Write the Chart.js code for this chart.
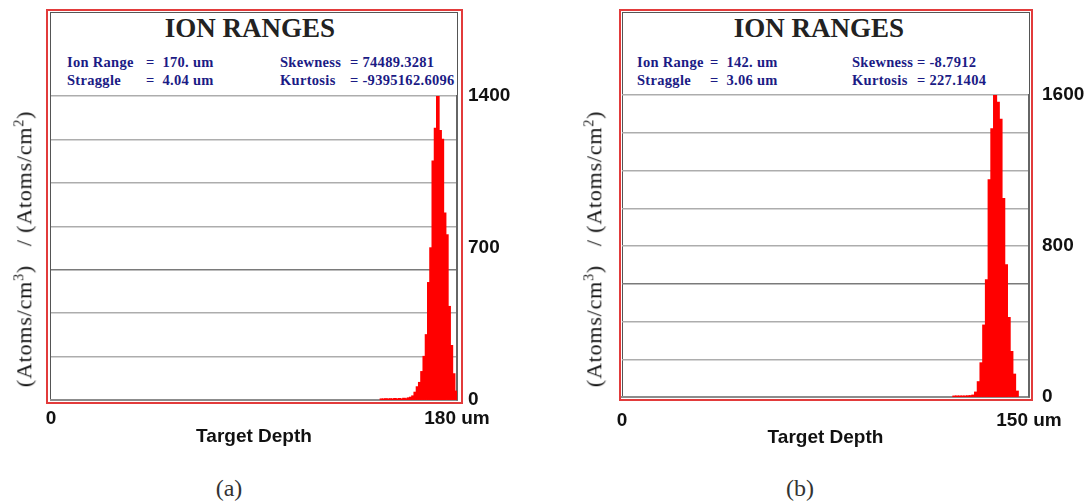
<!DOCTYPE html>
<html><head><meta charset="utf-8">
<script src="https://cdn.jsdelivr.net/npm/chart.js@4.4.1/dist/chart.umd.min.js"></script>
<style>
body{margin:0;background:#fff;}
#wrap{position:relative;width:1092px;height:504px;overflow:hidden;background:#fff;}
.box{position:absolute;box-sizing:border-box;}
.red{border:2px solid #e23b3b;}
.inner{border:1.5px solid #555;}
canvas{position:absolute;top:0;}
.t{position:absolute;white-space:nowrap;}
.title{font:bold 27px "Liberation Serif",serif;color:#222;transform:translateX(-50%);line-height:27px;}
.st{font:bold 14.5px "Liberation Serif",serif;color:#1b1b85;line-height:14px;letter-spacing:0.3px;}
.yt{font:22px "Liberation Serif",serif;color:#111;transform:translate(-50%,-50%) rotate(-90deg);line-height:22px;letter-spacing:0.8px;}
.yt sup{font-size:14px;}
.cap{font:24px "Liberation Serif",serif;color:#333;transform:translate(-50%,-50%);line-height:24px;}
</style></head>
<body>
<div id="wrap">
  <div class="box red" style="left:46px;top:9px;width:417px;height:395px;"></div>
  <div class="box inner" style="left:50px;top:12px;width:408px;height:389px;"></div>
  <div class="box red" style="left:619px;top:9px;width:414px;height:392px;"></div>
  <div class="box inner" style="left:622px;top:12px;width:408px;height:386px;"></div>

  <div class="t title" style="left:250px;top:15px;">ION RANGES</div>
  <div class="t st" style="left:67px;top:55px;">Ion Range</div>
  <div class="t st" style="left:146px;top:55px;">= &nbsp;170. um</div>
  <div class="t st" style="left:280px;top:55px;">Skewness</div>
  <div class="t st" style="left:350px;top:55px;">= 74489.3281</div>
  <div class="t st" style="left:67px;top:73px;">Straggle</div>
  <div class="t st" style="left:146px;top:73px;">= &nbsp;4.04 um</div>
  <div class="t st" style="left:280px;top:73px;">Kurtosis</div>
  <div class="t st" style="left:350px;top:73px;">= -9395162.6096</div>

  <div class="t title" style="left:819px;top:15px;">ION RANGES</div>
  <div class="t st" style="left:637px;top:55px;">Ion Range</div>
  <div class="t st" style="left:710px;top:55px;">= &nbsp;142. um</div>
  <div class="t st" style="left:852px;top:55px;">Skewness</div>
  <div class="t st" style="left:917px;top:55px;">= -8.7912</div>
  <div class="t st" style="left:637px;top:73px;">Straggle</div>
  <div class="t st" style="left:710px;top:73px;">= &nbsp;3.06 um</div>
  <div class="t st" style="left:852px;top:73px;">Kurtosis</div>
  <div class="t st" style="left:917px;top:73px;">= 227.1404</div>

  <canvas id="ca" width="546" height="460" style="left:0px;"></canvas>
  <canvas id="cb" width="546" height="460" style="left:546px;"></canvas>

  <div class="t yt" style="left:22px;top:249px;">(Atoms/cm<sup>3</sup>)&nbsp;&nbsp; / (Atoms/cm<sup>2</sup>)</div>
  <div class="t yt" style="left:592px;top:249px;">(Atoms/cm<sup>3</sup>)&nbsp;&nbsp; / (Atoms/cm<sup>2</sup>)</div>

  <div class="t cap" style="left:229px;top:488px;">(a)</div>
  <div class="t cap" style="left:800px;top:488px;">(b)</div>
</div>
<script>
// Panel (a): 170 um ion range, depth axis 0-180 um (bin start depths, 1 um bins)
const depthA  = [146,147,148,149,150,151,152,153,154,155,156,157,158,159,160,161,162,163,164,165,166,167,168,169,170,171,172,173,174,175,176,177,178,179];
const countsA = [4,1,5,1,5,2,6,1,6,3,7,5,9,12,18,35,60,80,130,200,300,540,700,1100,1250,1420,1240,1200,860,760,430,250,120,40];
const xMaxA = 180;
const yMaxA = 1400;
const yLabelsA = [0,700,1400];
const yGridA = [0,200,400,600,800,1000,1200,1400];

// Panel (b): 142 um ion range, depth axis 0-150 um (bin start depths, 1 um bins)
const depthB  = [122,123,124,125,126,127,128,129,130,131,132,133,134,135,136,137,138,139,140,141,142,143,144,145];
const countsB = [2,3,2,4,3,5,6,9,25,80,180,380,620,1150,1420,1610,1560,1470,1050,700,420,240,120,30];
const xMaxB = 150;
const yMaxB = 1600;
const yLabelsB = [0,800,1600];
const yGridB = [0,200,400,600,800,1000,1200,1400,1600];

function makeChart(id, depth, counts, xMax, yMax, yLabels, yGrid, o){
  const binW = depth[1]-depth[0];
  const pts = depth.map((d,i)=>({x:d+binW/2, y:counts[i]}));
  const tickVals = Array.from(new Set(yGrid.concat(yLabels))).sort((a,b)=>a-b);
  const tickFont = {family:'Liberation Sans', weight:'bold', size:19};
  return new Chart(document.getElementById(id), {
    type:'bar',
    data:{datasets:[{data:pts, backgroundColor:'#ff0000', borderWidth:0,
      barPercentage:1, categoryPercentage:1, inflateAmount:0.7}]},
    options:{
      responsive:false, animation:false, events:[],
      layout:{padding:{left:o.left, top:o.top, right:0, bottom:0}},
      plugins:{legend:{display:false}, tooltip:{enabled:false}},
      scales:{
        x:{type:'linear', min:0, max:xMax, offset:false,
          grid:{display:false, drawTicks:false},
          border:{display:true, color:'#8c8c8c', width:2},
          afterBuildTicks:s=>{ s.ticks=[{value:0},{value:xMax}]; },
          ticks:{autoSkip:false, maxRotation:0, padding:o.xPad, color:'#111', font:tickFont,
            callback:v=> v===0 ? '0' : v+' um'},
          title:{display:true, text:'Target Depth', color:'#111',
            font:{family:'Liberation Sans', weight:'bold', size:19}, padding:{top:0, bottom:o.titlePb}},
          afterFit:s=>{ s.height=o.xH; }
        },
        y:{type:'linear', position:'right', min:0, max:yMax,
          afterBuildTicks:s=>{ s.ticks = tickVals.map(v=>({value:v})); },
          grid:{drawTicks:false, lineWidth:1.5,
            color:c=>{ const v=c.tick ? c.tick.value : null;
              if(!yGrid.includes(v)) return 'rgba(0,0,0,0)';
              return v===600 ? '#7a7a7a' : '#adadad'; }},
          border:{display:true, color:'#666', width:2},
          ticks:{autoSkip:false, padding:o.yPad, color:'#111', font:tickFont,
            callback:v=> yLabels.includes(v) ? String(v) : ''},
          afterFit:s=>{ s.width=o.yW; }
        }
      }
    }
  });
}

makeChart('ca', depthA, countsA, xMaxA, yMaxA, yLabelsA, yGridA,
  {left:51, top:96, xH:60, yW:89, xPad:7, yPad:11, titlePb:12});
makeChart('cb', depthB, countsB, xMaxB, yMaxB, yLabelsB, yGridB,
  {left:76, top:95, xH:63, yW:63, xPad:12, yPad:13, titlePb:11});
</script>
</body></html>
